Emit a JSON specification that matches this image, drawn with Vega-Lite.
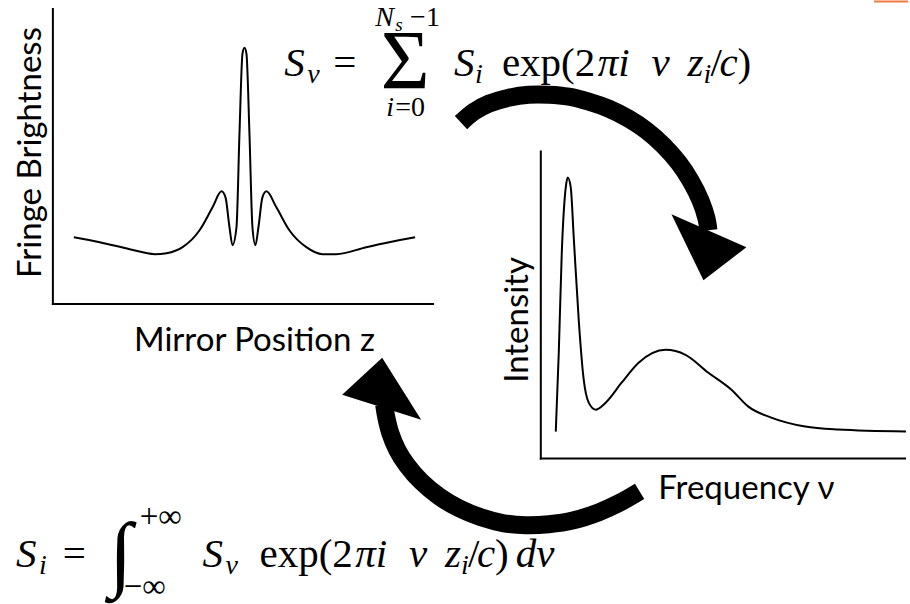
{
  "$schema": "https://vega.github.io/schema/vega-lite/v6.json",
  "width": 910,
  "height": 604,
  "autosize": {"type": "fit", "contains": "padding"},
  "padding": 0,
  "background": "white",
  "config": {"view": {"stroke": null}, "axis": {"disable": true}},
  "datasets": {
    "axes": [
      {"x": 53, "y": 7, "x2": 53, "y2": 305},
      {"x": 52, "y": 304, "x2": 435, "y2": 304},
      {"x": 542, "y": 150, "x2": 542, "y2": 460},
      {"x": 541, "y": 459, "x2": 908, "y2": 459}
    ],
    "orange": [{"x": 876, "y": 0.5, "x2": 910, "y2": 0.5}],
    "fringe": [
      {"x": 74, "y": 237}, {"x": 100, "y": 242}, {"x": 130, "y": 249}, {"x": 155, "y": 254},
      {"x": 167, "y": 253}, {"x": 183, "y": 247}, {"x": 200, "y": 230}, {"x": 213, "y": 207},
      {"x": 222, "y": 191}, {"x": 226, "y": 197}, {"x": 230, "y": 227}, {"x": 233, "y": 245},
      {"x": 237, "y": 227}, {"x": 240, "y": 133}, {"x": 243, "y": 53}, {"x": 245, "y": 47},
      {"x": 247, "y": 53}, {"x": 250, "y": 133}, {"x": 253, "y": 227}, {"x": 256, "y": 245},
      {"x": 259, "y": 227}, {"x": 263, "y": 197}, {"x": 267, "y": 191}, {"x": 277, "y": 207},
      {"x": 290, "y": 230}, {"x": 307, "y": 247}, {"x": 323, "y": 254}, {"x": 337, "y": 254},
      {"x": 367, "y": 247}, {"x": 390, "y": 242}, {"x": 416, "y": 237}
    ],
    "spectrum": [
      {"x": 557, "y": 432}, {"x": 560, "y": 353}, {"x": 563, "y": 253}, {"x": 567, "y": 187},
      {"x": 569, "y": 177}, {"x": 572, "y": 187}, {"x": 575, "y": 237}, {"x": 580, "y": 320},
      {"x": 585, "y": 380}, {"x": 590, "y": 403}, {"x": 597, "y": 410}, {"x": 607, "y": 403},
      {"x": 623, "y": 383}, {"x": 640, "y": 363}, {"x": 667, "y": 350}, {"x": 687, "y": 355},
      {"x": 710, "y": 373}, {"x": 733, "y": 390}, {"x": 750, "y": 407}, {"x": 773, "y": 418},
      {"x": 807, "y": 427}, {"x": 840, "y": 430}, {"x": 908, "y": 432}
    ],
    "arcs": [
      {"arc": "top", "i": 1, "x": 462, "y": 122}, {"arc": "top", "i": 2, "x": 475, "y": 111},
      {"arc": "top", "i": 3, "x": 490, "y": 103}, {"arc": "top", "i": 4, "x": 510, "y": 97},
      {"arc": "top", "i": 5, "x": 530, "y": 94}, {"arc": "top", "i": 6, "x": 550, "y": 94},
      {"arc": "top", "i": 7, "x": 570, "y": 96}, {"arc": "top", "i": 8, "x": 590, "y": 101},
      {"arc": "top", "i": 9, "x": 610, "y": 108}, {"arc": "top", "i": 10, "x": 630, "y": 118},
      {"arc": "top", "i": 11, "x": 648, "y": 130}, {"arc": "top", "i": 12, "x": 665, "y": 145},
      {"arc": "top", "i": 13, "x": 680, "y": 162}, {"arc": "top", "i": 14, "x": 692, "y": 180},
      {"arc": "top", "i": 15, "x": 702, "y": 200}, {"arc": "top", "i": 16, "x": 708, "y": 218},
      {"arc": "top", "i": 17, "x": 710, "y": 230},
      {"arc": "bottom", "i": 1, "x": 641, "y": 492}, {"arc": "bottom", "i": 2, "x": 620, "y": 504},
      {"arc": "bottom", "i": 3, "x": 600, "y": 513}, {"arc": "bottom", "i": 4, "x": 575, "y": 521},
      {"arc": "bottom", "i": 5, "x": 550, "y": 525}, {"arc": "bottom", "i": 6, "x": 527, "y": 526},
      {"arc": "bottom", "i": 7, "x": 505, "y": 524}, {"arc": "bottom", "i": 8, "x": 482, "y": 518},
      {"arc": "bottom", "i": 9, "x": 460, "y": 509}, {"arc": "bottom", "i": 10, "x": 440, "y": 497},
      {"arc": "bottom", "i": 11, "x": 422, "y": 482}, {"arc": "bottom", "i": 12, "x": 408, "y": 466},
      {"arc": "bottom", "i": 13, "x": 398, "y": 450}, {"arc": "bottom", "i": 14, "x": 391, "y": 433},
      {"arc": "bottom", "i": 15, "x": 387, "y": 417}, {"arc": "bottom", "i": 16, "x": 385, "y": 405}
    ],
    "heads": [
      {"dir": "down", "x": 710.5, "y": 230.5},
      {"dir": "up", "x": 382.5, "y": 407.5}
    ],
    "mathIt": [
      {"x": 285, "y": 75, "t": "S"}, {"x": 455, "y": 75, "t": "S"}, {"x": 599, "y": 75, "t": "πi"},
      {"x": 653, "y": 75, "t": "ν"}, {"x": 689, "y": 75, "t": "z"}, {"x": 721, "y": 75, "t": "c"},
      {"x": 16, "y": 568, "t": "S"}, {"x": 203, "y": 568, "t": "S"}, {"x": 356, "y": 568, "t": "πi"},
      {"x": 410, "y": 568, "t": "ν"}, {"x": 446, "y": 568, "t": "z"}, {"x": 478, "y": 568, "t": "c"},
      {"x": 517, "y": 568, "t": "dν"}
    ],
    "mathRm": [
      {"x": 334, "y": 75, "t": "="}, {"x": 503, "y": 75, "t": "exp(2"}, {"x": 712, "y": 75, "t": "/"},
      {"x": 739, "y": 75, "t": ")"},
      {"x": 63, "y": 568, "t": "="}, {"x": 260, "y": 568, "t": "exp(2"}, {"x": 469, "y": 568, "t": "/"},
      {"x": 496, "y": 568, "t": ")"}
    ],
    "subIt": [
      {"x": 308, "y": 82, "t": "ν"}, {"x": 476, "y": 82, "t": "i"}, {"x": 705, "y": 82, "t": "i"},
      {"x": 376, "y": 25, "t": "N"}, {"x": 387, "y": 115, "t": "i"},
      {"x": 39, "y": 575, "t": "i"}, {"x": 226, "y": 575, "t": "ν"}, {"x": 462, "y": 575, "t": "i"}
    ],
    "subRm": [
      {"x": 411, "y": 25, "t": "−1"}, {"x": 396, "y": 115, "t": "=0"}
    ],
    "limits": [
      {"x": 140, "y": 528, "t": "+∞"}, {"x": 124, "y": 598, "t": "−∞"}
    ],
    "tinyIt": [{"x": 396, "y": 30, "t": "s"}],
    "big": [{"x": 406, "y": 88, "t": "Σ"}, {"x": 121, "y": 582, "t": "∫"}],
    "labelsH": [
      {"x": 255, "y": 341, "t": "Mirror Position z"},
      {"x": 748, "y": 490, "t": "Frequency ν"}
    ],
    "labelsV": [
      {"x": 31, "y": 152, "t": "Fringe Brightness"},
      {"x": 519, "y": 320, "t": "Intensity"}
    ]
  },
  "encoding": {
    "x": {"field": "x", "type": "quantitative", "axis": null, "scale": {"domain": [0, 910], "nice": false, "zero": false}},
    "y": {"field": "y", "type": "quantitative", "axis": null, "scale": {"domain": [0, 604], "reverse": true, "nice": false, "zero": false}}
  },
  "layer": [
    {"data": {"name": "axes"}, "mark": {"type": "rule", "color": "black", "strokeWidth": 2},
     "encoding": {"x2": {"field": "x2"}, "y2": {"field": "y2"}}},
    {"data": {"name": "orange"}, "mark": {"type": "rule", "color": "#f47a45", "strokeWidth": 2},
     "encoding": {"x2": {"field": "x2"}, "y2": {"field": "y2"}}},
    {"data": {"name": "fringe"}, "mark": {"type": "line", "color": "black", "strokeWidth": 2, "interpolate": "monotone"}, "encoding": {}},
    {"data": {"name": "spectrum"}, "mark": {"type": "line", "color": "black", "strokeWidth": 2, "interpolate": "monotone"}, "encoding": {}},
    {"data": {"name": "arcs"}, "mark": {"type": "line", "color": "black", "strokeWidth": 18, "strokeCap": "butt", "interpolate": "catmull-rom"},
     "encoding": {"detail": {"field": "arc", "type": "nominal"}, "order": {"field": "i", "type": "quantitative"}}},
    {"data": {"name": "heads"}, "mark": {"type": "point", "filled": true, "color": "black", "opacity": 1, "size": 10000, "strokeWidth": 0},
     "encoding": {"shape": {"field": "dir", "type": "nominal", "legend": null,
       "scale": {"domain": ["down", "up"], "range": ["M-0.11,0.99L-0.75,-0.33L0.75,0.33Z", "M0.01,-0.99L-0.79,-0.25L0.79,0.25Z"]}}}},
    {"data": {"name": "mathIt"}, "mark": {"type": "text", "font": "Liberation Serif", "fontStyle": "italic", "fontSize": 41, "align": "left", "baseline": "alphabetic", "color": "black"},
     "encoding": {"text": {"field": "t"}}},
    {"data": {"name": "mathRm"}, "mark": {"type": "text", "font": "Liberation Serif", "fontSize": 41, "align": "left", "baseline": "alphabetic", "color": "black"},
     "encoding": {"text": {"field": "t"}}},
    {"data": {"name": "subIt"}, "mark": {"type": "text", "font": "Liberation Serif", "fontStyle": "italic", "fontSize": 28, "align": "left", "baseline": "alphabetic", "color": "black"},
     "encoding": {"text": {"field": "t"}}},
    {"data": {"name": "subRm"}, "mark": {"type": "text", "font": "Liberation Serif", "fontSize": 28, "align": "left", "baseline": "alphabetic", "color": "black"},
     "encoding": {"text": {"field": "t"}}},
    {"data": {"name": "limits"}, "mark": {"type": "text", "font": "Liberation Serif", "fontSize": 33, "align": "left", "baseline": "alphabetic", "color": "black"},
     "encoding": {"text": {"field": "t"}}},
    {"data": {"name": "tinyIt"}, "mark": {"type": "text", "font": "Liberation Serif", "fontStyle": "italic", "fontSize": 19, "align": "left", "baseline": "alphabetic", "color": "black"},
     "encoding": {"text": {"field": "t"}}},
    {"data": {"name": "big"}, "mark": {"type": "text", "font": "Liberation Serif", "fontSize": 84, "align": "center", "baseline": "alphabetic", "color": "black"},
     "encoding": {"text": {"field": "t"}}},
    {"data": {"name": "labelsH"}, "mark": {"type": "text", "font": "Lato", "fontSize": 33, "align": "center", "baseline": "middle", "color": "black"},
     "encoding": {"text": {"field": "t"}}},
    {"data": {"name": "labelsV"}, "mark": {"type": "text", "font": "Lato", "fontSize": 33, "align": "center", "baseline": "middle", "angle": 270, "color": "black"},
     "encoding": {"text": {"field": "t"}}}
  ]
}
